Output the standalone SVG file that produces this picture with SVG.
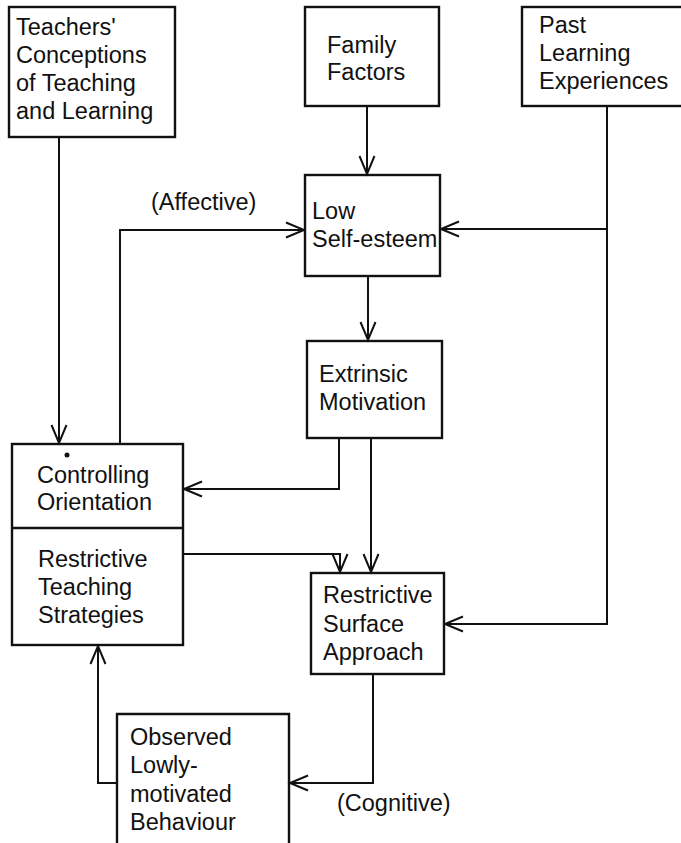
<svg xmlns="http://www.w3.org/2000/svg" width="681" height="843" viewBox="0 0 681 843">
<style>
.box{fill:none;stroke:#111;stroke-width:2.4}
.t{font-family:"Liberation Sans",Arial,sans-serif;font-size:23.5px;fill:#111}
.c{fill:none;stroke:#111;stroke-width:2}
</style>
<defs>
<marker id="ah" markerUnits="userSpaceOnUse" markerWidth="24" markerHeight="20" viewBox="-20 -10 24 20" refX="0" refY="0" orient="auto" overflow="visible">
<path d="M-18,-7.5 L0,0 L-18,7.5" fill="none" stroke="#111" stroke-width="2"/>
</marker>
</defs>
<rect width="681" height="843" fill="#fff"/>
<g id="teachers">
<rect class="box" x="9" y="7" width="166" height="130"/>
<text class="t" x="16" y="35">Teachers'</text>
<text class="t" x="16" y="63">Conceptions</text>
<text class="t" x="16" y="91">of Teaching</text>
<text class="t" x="16" y="119">and Learning</text>
</g>
<g id="family">
<rect class="box" x="305" y="7" width="134" height="99"/>
<text class="t" x="327" y="53">Family</text>
<text class="t" x="327" y="80">Factors</text>
</g>
<g id="past">
<rect class="box" x="522" y="7" width="170" height="99"/>
<text class="t" x="539" y="33">Past</text>
<text class="t" x="539" y="61">Learning</text>
<text class="t" x="539" y="89">Experiences</text>
</g>
<g id="lowselfesteem">
<rect class="box" x="305" y="175" width="135" height="101"/>
<text class="t" x="312" y="219">Low</text>
<text class="t" x="312" y="247">Self-esteem</text>
</g>
<g id="extrinsic">
<rect class="box" x="307" y="341" width="135" height="97"/>
<text class="t" x="319" y="382">Extrinsic</text>
<text class="t" x="319" y="410">Motivation</text>
</g>
<g id="controlling">
<rect class="box" x="12" y="444" width="171" height="201"/>
<line class="box" x1="12" y1="528" x2="183" y2="528"/>
<circle cx="67" cy="455" r="2.5" fill="#111"/>
<text class="t" x="37" y="483">Controlling</text>
<text class="t" x="37" y="510">Orientation</text>
<text class="t" x="38" y="567">Restrictive</text>
<text class="t" x="38" y="595">Teaching</text>
<text class="t" x="38" y="623">Strategies</text>
</g>
<g id="surface">
<rect class="box" x="311" y="573" width="133" height="101"/>
<text class="t" x="323" y="603">Restrictive</text>
<text class="t" x="323" y="632">Surface</text>
<text class="t" x="323" y="660">Approach</text>
</g>
<g id="observed">
<path class="box" d="M117,850 L117,714 L289,714 L289,850"/>
<text class="t" x="130" y="745">Observed</text>
<text class="t" x="130" y="773">Lowly-</text>
<text class="t" x="130" y="802">motivated</text>
<text class="t" x="130" y="830">Behaviour</text>
</g>
<g id="connectors">
<path class="c" d="M59,137 L59,443" marker-end="url(#ah)"/>
<path class="c" d="M367,106 L367,174" marker-end="url(#ah)"/>
<path class="c" d="M607,106 L607,624 L445,624" marker-end="url(#ah)"/>
<path class="c" d="M607,229 L441,229" marker-end="url(#ah)"/>
<path class="c" d="M368,276 L368,340" marker-end="url(#ah)"/>
<path class="c" d="M339,438 L339,489 L184,489" marker-end="url(#ah)"/>
<path class="c" d="M371,438 L371,572" marker-end="url(#ah)"/>
<path class="c" d="M183,554 L340,554 L340,572" marker-end="url(#ah)"/>
<path class="c" d="M120,444 L120,230 L304,230" marker-end="url(#ah)"/>
<path class="c" d="M373,674 L373,783 L290,783" marker-end="url(#ah)"/>
<path class="c" d="M117,783 L98,783 L98,646" marker-end="url(#ah)"/>
</g>
<g id="labels">
<text class="t" x="151" y="210">(Affective)</text>
<text class="t" x="337" y="811">(Cognitive)</text>
</g>
</svg>
